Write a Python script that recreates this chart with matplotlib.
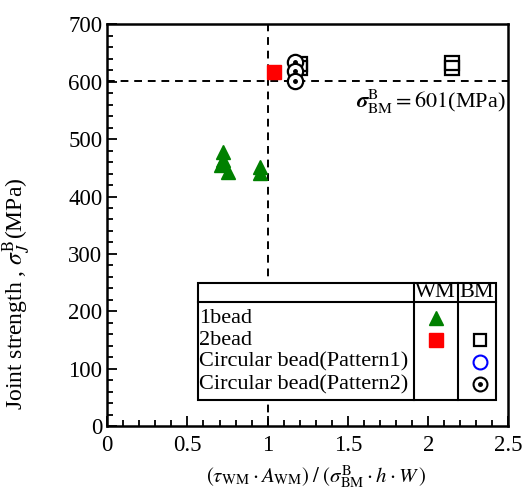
import matplotlib
matplotlib.use("Agg")
import matplotlib.pyplot as plt
from matplotlib.lines import Line2D
from matplotlib.ticker import MultipleLocator

plt.rcParams["font.family"] = ["Liberation Serif", "DejaVu Serif"]
plt.rcParams["mathtext.fontset"] = "stix"

# ---- data ----
bead1_wm_x = [0.72, 0.72, 0.71, 0.75, 0.95, 0.95]
bead1_wm_y = [477, 464, 455, 442, 451, 441]

bead2_wm_x = [1.04]
bead2_wm_y = [617]
bead2_bm_x = [1.20, 1.20, 2.15, 2.15]
bead2_bm_y = [630, 624, 633, 624]

circ2_bm_x = [1.17, 1.17, 1.17]
circ2_bm_y = [634, 619, 601]

sigma_bm = 601
ratio_line = 1.0

fig = plt.figure(figsize=(5.28, 4.95), dpi=100)
ax = fig.add_axes([0.203, 0.139, 0.76, 0.812])

ax.axhline(sigma_bm, color="k", ls=(0, (4, 3)), lw=1.4, zorder=1)
ax.axvline(ratio_line, color="k", ls=(0, (4, 3)), lw=1.4, zorder=1)

ax.plot(bead1_wm_x, bead1_wm_y, "^", color="green", ms=9.5, mec="green", ls="none")
ax.plot(bead2_wm_x, bead2_wm_y, "s", color="red", ms=10, mec="red", ls="none")
ax.plot(bead2_bm_x, bead2_bm_y, "s", mfc="none", mec="k", mew=1.6, ms=9.5, ls="none")
ax.plot(circ2_bm_x, circ2_bm_y, "o", mfc="white", mec="k", mew=1.6, ms=11, ls="none")
ax.plot(circ2_bm_x, circ2_bm_y, "o", color="k", ms=2.5, ls="none")

ax.text(2.48, 565, r"$\boldsymbol{\sigma}_{\rm BM}^{\rm B}=601$(MPa)", ha="right", va="center", fontsize=16)

ax.set_xlim(0, 2.5)
ax.set_ylim(0, 700)
ax.xaxis.set_major_locator(MultipleLocator(0.5))
ax.xaxis.set_minor_locator(MultipleLocator(0.1))
ax.yaxis.set_major_locator(MultipleLocator(100))
ax.yaxis.set_minor_locator(MultipleLocator(20))
ax.xaxis.set_major_formatter(plt.FuncFormatter(lambda v, p: f"{v:g}"))
ax.tick_params(which="both", direction="in", labelsize=16.5, width=1.3)
ax.tick_params(which="major", length=7)
ax.tick_params(which="minor", length=4)
ax.tick_params(axis="x", pad=6)
for s in ax.spines.values():
    s.set_linewidth(1.8)

ax.set_xlabel(r"$(\tau_{\rm WM}\cdot A_{\rm WM})\;/\;(\sigma_{\rm BM}^{\rm B}\cdot h\cdot W\,)$", fontsize=15)
ax.set_ylabel(r"Joint strength , $\sigma_{J}^{\rm B}$(MPa)", fontsize=17)
ax.xaxis.set_label_coords(0.52, -0.092)
ax.yaxis.set_label_coords(-0.185, 0.33)

# ---- table-style legend ----
x0, x1, x2, x3 = 0.226, 0.764, 0.873, 0.970
y_top, y_hdr, y_bot = 0.356, 0.308, 0.065
tr = ax.transAxes
box = plt.Rectangle((x0, y_bot), x3 - x0, y_top - y_bot, transform=tr,
                    facecolor="white", edgecolor="k", lw=1.5, zorder=5)
ax.add_patch(box)
for xs in (x1, x2):
    ax.add_line(Line2D([xs, xs], [y_bot, y_top], transform=tr, color="k", lw=1.5, zorder=6))
ax.add_line(Line2D([x0, x3], [y_hdr, y_hdr], transform=tr, color="k", lw=1.5, zorder=6))

hdr_y = (y_top + y_hdr) / 2
ax.text((x1 + x2) / 2, hdr_y, "WM", transform=tr, ha="center", va="center", fontsize=16, zorder=7)
ax.text((x2 + x3) / 2, hdr_y, "BM", transform=tr, ha="center", va="center", fontsize=16, zorder=7)

row_labels = ["1bead", "2bead", "Circular bead(Pattern1)", "Circular bead(Pattern2)"]
row_y = [0.269, 0.214, 0.159, 0.104]
for lab, ry in zip(row_labels, row_y):
    ax.text(x0 + 0.003, ry, lab, transform=tr, ha="left", va="center", fontsize=16, zorder=7)

wm_x = 0.819
bm_x = 0.928
kw = dict(transform=tr, ls="none", zorder=8, clip_on=False)
ax.plot([wm_x], [row_y[0]], "^", color="green", ms=9.5, **kw)
ax.plot([wm_x], [row_y[1]], "s", color="red", ms=10, **kw)
ax.plot([bm_x], [row_y[1]], "s", mfc="none", mec="k", mew=1.6, ms=9, **kw)
ax.plot([bm_x], [row_y[2]], "o", mfc="none", mec="blue", mew=1.5, ms=10, **kw)
ax.plot([bm_x], [row_y[3]], "o", mfc="none", mec="k", mew=1.5, ms=10, **kw)
ax.plot([bm_x], [row_y[3]], "o", color="k", ms=2.5, **kw)

fig.savefig("out.png", dpi=100)
